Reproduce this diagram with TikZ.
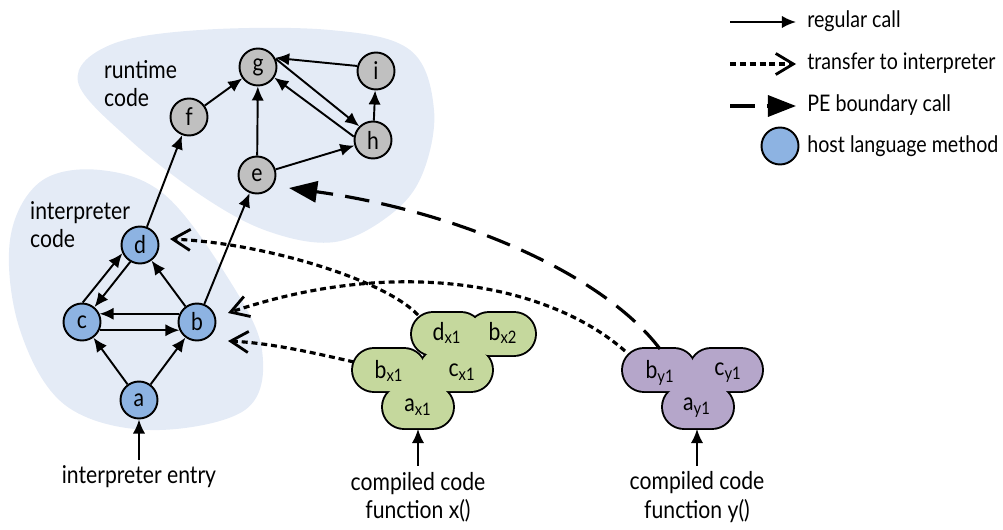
\documentclass[tikz,border=0pt]{standalone}
\usepackage{fontspec}
\setmainfont{Lato}[FakeStretch=0.86]
\usetikzlibrary{arrows.meta}

\definecolor{regionblue}{HTML}{E4EBF6}
\definecolor{hostblue}{HTML}{8DB3E2}
\definecolor{rtgray}{HTML}{C0C0C0}
\definecolor{xgreen}{HTML}{C5D89D}
\definecolor{ypurple}{HTML}{B5A6CA}

\tikzset{
  method/.style={circle, draw, line width=1.1pt, minimum size=0.74cm, inner sep=0pt},
  hostnode/.style={method, fill=hostblue},
  rtnode/.style={method, fill=rtgray},
  call/.style={-{Latex[length=8pt,width=7pt]}, line width=1.1pt},
  transfer/.style={-{Straight Barb[length=10pt,width=12pt,line width=1.6pt]}, line width=1.8pt, dash pattern=on 3.4pt off 2.2pt},
  boundary/.style={-{Triangle[length=16pt,width=12pt]}, line width=1.8pt, dash pattern=on 14pt off 7pt},
  lobe/.style={rounded corners=0.42cm},
  legendtext/.style={anchor=west, inner sep=0pt, font=\fontsize{13}{15}\selectfont},
}

\begin{document}
\begin{tikzpicture}[x=0.02cm, y=-0.02cm, font=\fontsize{14}{16}\selectfont]
\useasboundingbox (0,0) rectangle (1003,530);

% code regions
\fill[regionblue] plot[smooth cycle, tension=0.6] coordinates {(78,82) (110,45) (200,30) (330,30) (410,50) (434,110) (422,175) (390,215) (335,242) (270,232) (205,198) (130,140)};
\fill[regionblue] plot[smooth cycle, tension=0.6] coordinates {(10,240) (40,182) (100,170) (165,195) (228,278) (262,350) (245,410) (150,430) (65,405) (20,330)};
\node[anchor=west, align=left] (rtlabel) at (98,84) {runtime\\code};
\node[anchor=west, align=left] (iplabel) at (24,225) {interpreter\\code};

% runtime methods
\node[rtnode] (g) at (258,67) {g};
\node[rtnode] (i) at (376,71) {i};
\node[rtnode] (f) at (189,117) {f};
\node[rtnode] (h) at (373,140) {h};
\node[rtnode] (e) at (257,175) {e};

% interpreter methods
\node[hostnode] (d) at (140,245) {d};
\node[hostnode] (c) at (82,322) {c};
\node[hostnode] (b) at (197,322) {b};
\node[hostnode] (a) at (139,400) {a};

\draw[call] (a) -- (c);
\draw[call] (a) -- (b);
\draw[call] (b.155) -- (c.25);
\draw[call] (c.-25) -- (b.205);
\draw[call] (c.88) -- (d.205);
\draw[call] (d.240) -- (c.50);
\draw[call] (b) -- (d);
\draw[call] (d) -- (f);
\draw[call] (b) -- (e);
\draw[call] (f) -- (g);
\draw[call] (e) -- (g);
\draw[call] (e) -- (h);
\draw[call] (g.25) -- (h.135);
\draw[call] (h.170) -- (g.-33);
\draw[call] (h) -- (i);
\draw[call] (i.165) -- (g.28);

% compiled function x()
\foreach \xa/\ya/\xb/\yb in {412/313/482/355, 468/313/535/355, 353/349/425/391, 420/349/492/391, 383/386/453/428}
  \draw[lobe, line width=2.2pt] (\xa,\ya) rectangle (\xb,\yb);
\foreach \xa/\ya/\xb/\yb in {412/313/482/355, 468/313/535/355, 353/349/425/391, 420/349/492/391, 383/386/453/428}
  \fill[lobe, xgreen] (\xa,\ya) rectangle (\xb,\yb);
\fill[xgreen] (400,362) rectangle (445,400);
\node (dx1) at (447,333) {d\textsubscript{x1}};
\node (bx2) at (503,333) {b\textsubscript{x2}};
\node (bx1) at (389,371) {b\textsubscript{x1}};
\node (cx1) at (462,372) {c\textsubscript{x1}};
\node (ax1) at (418,407) {a\textsubscript{x1}};

% compiled function y()
\foreach \xa/\ya/\xb/\yb in {623/349/695/391, 690/349/762/391, 663/386/733/428}
  \draw[lobe, line width=2.2pt] (\xa,\ya) rectangle (\xb,\yb);
\foreach \xa/\ya/\xb/\yb in {623/349/695/391, 690/349/762/391, 663/386/733/428}
  \fill[lobe, ypurple] (\xa,\ya) rectangle (\xb,\yb);
\fill[ypurple] (675,362) rectangle (720,400);
\node (by1) at (660,373) {b\textsubscript{y1}};
\node (cy1) at (728,373) {c\textsubscript{y1}};
\node (ay1) at (697,408) {a\textsubscript{y1}};

% entries
\node (entry) at (139,477) {interpreter entry};
\node[align=center] (fx) at (418,497) {compiled code\\function x()};
\node[align=center] (fy) at (697,497) {compiled code\\function y()};
\coordinate (xbot) at (418,429);
\coordinate (ybot) at (697,429);
\draw[call] (entry.north) -- (a);
\draw[call] (fx.north) -- (xbot);
\draw[call] (fy.north) -- (ybot);

% transfers and boundary call
\coordinate (dxout) at (418,315);
\coordinate (bxout) at (354,362);
\coordinate (byout) at (625,351);
\coordinate (pyout) at (660,349);
\coordinate (dtip) at (170,239);
\coordinate (btopt) at (228,313);
\coordinate (bbott) at (228,341);
\coordinate (etip) at (289,188);
\draw[transfer] (dxout) .. controls (385,280) and (265,243) .. (dtip);
\draw[transfer] (byout) .. controls (550,285) and (400,255) .. (btopt);
\draw[transfer] (bxout) .. controls (310,352) and (270,343) .. (bbott);
\draw[boundary] (pyout) .. controls (600,270) and (450,210) .. (etip);

% legend
\coordinate (l1a) at (730,22); \coordinate (l1b) at (796,22);
\coordinate (l2a) at (730,64); \coordinate (l2b) at (796,64);
\coordinate (l3a) at (730,106); \coordinate (l3b) at (796,106);
\draw[call] (l1a) -- (l1b);
\draw[transfer] (l2a) -- (l2b);
\draw[boundary] (l3a) -- (l3b);
\node[hostnode] (lhost) at (780,146) {};
\node[legendtext] (t1) at (807,21) {regular call};
\node[legendtext] (t2) at (807,63) {transfer to interpreter};
\node[legendtext] (t3) at (807,105) {PE boundary call};
\node[legendtext] (t4) at (807,146) {host language method};
\end{tikzpicture}
\end{document}
